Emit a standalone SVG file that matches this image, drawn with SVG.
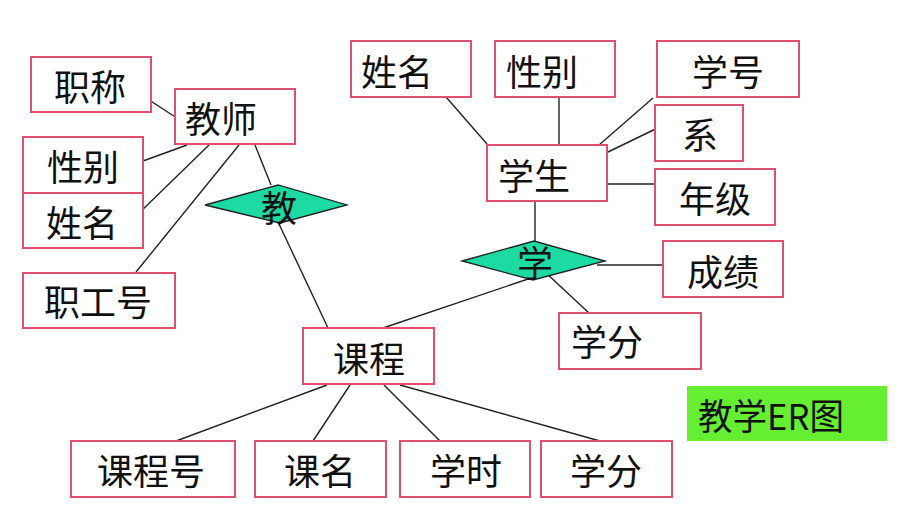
<svg xmlns="http://www.w3.org/2000/svg" width="909" height="516" viewBox="0 0 909 516">
<style>
.box{fill:#fff;stroke:#e0506e;stroke-width:2}
.dia{fill:#1dd9a2;stroke:#222;stroke-width:1.3}
.t{font-family:"Noto Sans CJK SC","Noto Sans",sans-serif;font-size:36px;fill:#111}
.c line{stroke:#222;stroke-width:1.4}
</style>
<rect width="909" height="516" fill="#fff"/>
<g class="c" id="connectors">
<line x1="123" y1="83" x2="183" y2="122"/>
<line x1="143" y1="161" x2="187" y2="145"/>
<line x1="136" y1="216" x2="209" y2="145"/>
<line x1="136" y1="272" x2="239" y2="145"/>
<line x1="255" y1="145" x2="271" y2="185"/>
<line x1="279" y1="224" x2="328" y2="328"/>
<line x1="439" y1="89" x2="487" y2="144"/>
<line x1="559" y1="89" x2="559" y2="145"/>
<line x1="653" y1="98" x2="599" y2="145"/>
<line x1="672" y1="121" x2="608" y2="152"/>
<line x1="607" y1="184" x2="655" y2="184"/>
<line x1="535" y1="193" x2="535" y2="241"/>
<line x1="597" y1="265" x2="663" y2="265"/>
<line x1="545" y1="272" x2="589" y2="313"/>
<line x1="383" y1="328" x2="537" y2="276"/>
<line x1="327" y1="385" x2="176" y2="441"/>
<line x1="350" y1="385" x2="313" y2="441"/>
<line x1="384" y1="385" x2="440" y2="441"/>
<line x1="400" y1="385" x2="600" y2="441"/>
</g>
<g id="zhicheng"><rect class="box" x="31" y="57" width="120" height="55"/><text class="t" x="54" y="101">职称</text></g>
<g id="jiaoshi"><rect class="box" x="175" y="89" width="120" height="55"/><text class="t" x="185" y="133">教师</text></g>
<g id="t_xingbie"><rect class="box" x="23" y="137" width="120" height="56"/><text class="t" x="47" y="181">性别</text></g>
<g id="t_xingming"><rect class="box" x="23" y="193" width="120" height="55"/><text class="t" x="46" y="237">姓名</text></g>
<g id="zhigonghao"><rect class="box" x="23" y="273" width="152" height="55"/><text class="t" x="44" y="316">职工号</text></g>
<g id="jiao"><polygon class="dia" points="205,205 278,185 347,205 280,223"/><text class="t" x="261" y="222">教</text></g>
<g id="s_xingming"><rect class="box" x="351" y="41" width="120" height="56"/><text class="t" x="361" y="86">姓名</text></g>
<g id="s_xingbie"><rect class="box" x="495" y="41" width="120" height="56"/><text class="t" x="506" y="86">性别</text></g>
<g id="xuehao"><rect class="box" x="657" y="41" width="142" height="56"/><text class="t" x="692" y="86">学号</text></g>
<g id="xi"><rect class="box" x="655" y="105" width="88" height="56"/><text class="t" x="682" y="149">系</text></g>
<g id="xuesheng"><rect class="box" x="487" y="145" width="120" height="56"/><text class="t" x="498" y="190">学生</text></g>
<g id="nianji"><rect class="box" x="655" y="169" width="120" height="56"/><text class="t" x="679" y="213">年级</text></g>
<g id="xue"><polygon class="dia" points="462,261 534,241 605,261 533,280"/><text class="t" x="517" y="277">学</text></g>
<g id="chengji"><rect class="box" x="663" y="241" width="120" height="56"/><text class="t" x="687" y="286">成绩</text></g>
<g id="xuefen1"><rect class="box" x="559" y="313" width="142" height="56"/><text class="t" x="571" y="356">学分</text></g>
<g id="kecheng"><rect class="box" x="303" y="328" width="131" height="56"/><text class="t" x="333" y="373">课程</text></g>
<g id="kechenghao"><rect class="box" x="71" y="441" width="164" height="56"/><text class="t" x="97" y="485">课程号</text></g>
<g id="keming"><rect class="box" x="255" y="441" width="131" height="56"/><text class="t" x="284" y="485">课名</text></g>
<g id="xueshi"><rect class="box" x="400" y="441" width="130" height="56"/><text class="t" x="430" y="485">学时</text></g>
<g id="xuefen2"><rect class="box" x="541" y="441" width="131" height="56"/><text class="t" x="570" y="485">学分</text></g>
<g id="title"><rect x="687" y="386" width="200" height="55" fill="#66ee33"/><text class="t" x="698" y="430" textLength="146" lengthAdjust="spacingAndGlyphs">教学ER图</text></g>
</svg>
